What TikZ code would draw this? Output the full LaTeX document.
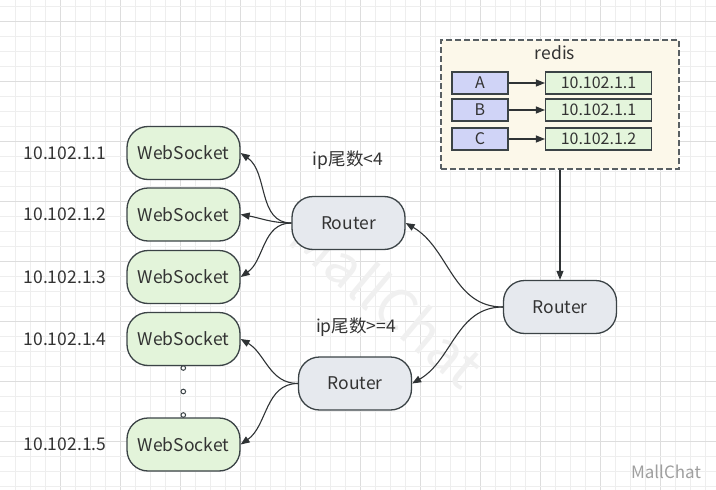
\documentclass[tikz,border=0pt]{standalone}
\usepackage{fontspec}
\setmainfont{Noto Sans CJK SC}
\usetikzlibrary{arrows.meta}
\definecolor{edgecol}{HTML}{3B4346}
\definecolor{linecol}{HTML}{2F3335}
\definecolor{textcol}{HTML}{333333}
\definecolor{wsfill}{HTML}{E3F4DA}
\definecolor{rtfill}{HTML}{E6E9EE}
\definecolor{redisfill}{HTML}{FCF8EA}
\definecolor{keyfill}{HTML}{D0D4F7}
\definecolor{ipfill}{HTML}{E4F5DC}
\definecolor{gridminor}{HTML}{EEEEEE}
\definecolor{gridmajor}{HTML}{DDDDDD}
\tikzset{
  box/.style={draw=edgecol, line width=1.3pt, rounded corners=21pt,
    minimum width=113pt, minimum height=53pt, inner sep=0pt,
    font=\fontsize{17.5}{17.5}\selectfont, text=textcol},
  wsbox/.style={box, fill=wsfill},
  rtbox/.style={box, fill=rtfill},
  keybox/.style={draw=edgecol, line width=1.1pt, fill=keyfill,
    minimum width=56pt, minimum height=22pt, inner sep=0pt,
    font=\fontsize{16}{16}\selectfont, text=textcol},
  ipbox/.style={keybox, fill=ipfill, minimum width=106pt},
  iplabel/.style={font=\fontsize{17.5}{17.5}\selectfont, text=textcol},
  link/.style={draw=linecol, line width=1.1pt,
    -{Triangle[length=9pt,width=7pt]}},
}

\begin{document}
\begin{tikzpicture}[x=1pt,y=-1pt]
\useasboundingbox (0,0) rectangle (716,490);
% ---- 背景网格 ----
\foreach \c in {1,...,47}{
  \pgfmathtruncatemacro{\m}{mod(\c,4)}
  \ifnum\m=0 \def\gc{gridmajor}\else \def\gc{gridminor}\fi
  \draw[\gc,line width=0.8pt] ({15*\c},0) -- ({15*\c},490);
}
\foreach \r in {0,...,32}{
  \pgfmathtruncatemacro{\m}{mod(\r-1,4)}
  \ifnum\m=0 \def\gc{gridmajor}\else \def\gc{gridminor}\fi
  \draw[\gc,line width=0.8pt] (0,{6+15*\r}) -- (716,{6+15*\r});
}
% ---- 水印 ----
\node[rotate=-40,text=black!6,font=\fontsize{56}{56}\selectfont]
  (mark) at (388,300) {MallChat};
\node[text=gray!75,font=\fontsize{17}{17}\selectfont]
  (mark2) at (666,472) {MallChat};
% ---- redis 映射表 ----
\node[draw=edgecol!85,dash pattern=on 6pt off 3pt,line width=1.3pt,
  fill=redisfill,minimum width=238pt,minimum height=129pt]
  (redis) at (560,104.5) {};
\node[iplabel] (redistitle) at (555,53) {redis};
\foreach \k/\ip/\y in {A/10.102.1.1/83, B/10.102.1.1/110, C/10.102.1.2/139}{
  \node[keybox] (key\k) at (480,\y) {\k};
  \node[ipbox] (ip\k) at (598.5,\y) {\ip};
  \draw[link] (key\k) -- (ip\k);
}
% ---- 路由层 ----
\node[rtbox] (rt0) at (560,307) {Router};
\node[rtbox] (rt1) at (348.5,223) {Router};
\node[rtbox] (rt2) at (355,383.5) {Router};
\node[iplabel] (cond1) at (348,160) {ip尾数<4};
\node[iplabel] (cond2) at (356,327) {ip尾数>=4};
% ---- WebSocket 节点 ----
\foreach \i/\y in {1/153, 2/214.5, 3/277, 4/339, 5/444.5}{
  \node[wsbox] (ws\i) at (183.5,\y) {WebSocket};
  \node[iplabel] (addr\i) at (65,\y) {10.102.1.\i};
}
\foreach \y in {368,391.5,415}
  \draw[edgecol,line width=1pt] (183.3,\y) circle (2.3pt);
% ---- 连线 ----
\draw[link] (redis) -- (rt0);
\draw[link] (rt0.west) to[out=180,in=-30] (rt1.east);
\draw[link] (rt0.west) to[out=180,in=30] (rt2.east);
\draw[link] (rt1.west) to[out=180,in=-35] (ws1.east);
\draw[link] (rt1.west) to[out=180,in=-10] (ws2.east);
\draw[link] (rt1.west) to[out=180,in=35] (ws3.east);
\draw[link] (rt2.west) to[out=180,in=-30] (ws4.east);
\draw[link] (rt2.west) to[out=180,in=35] (ws5.east);
\end{tikzpicture}
\end{document}
